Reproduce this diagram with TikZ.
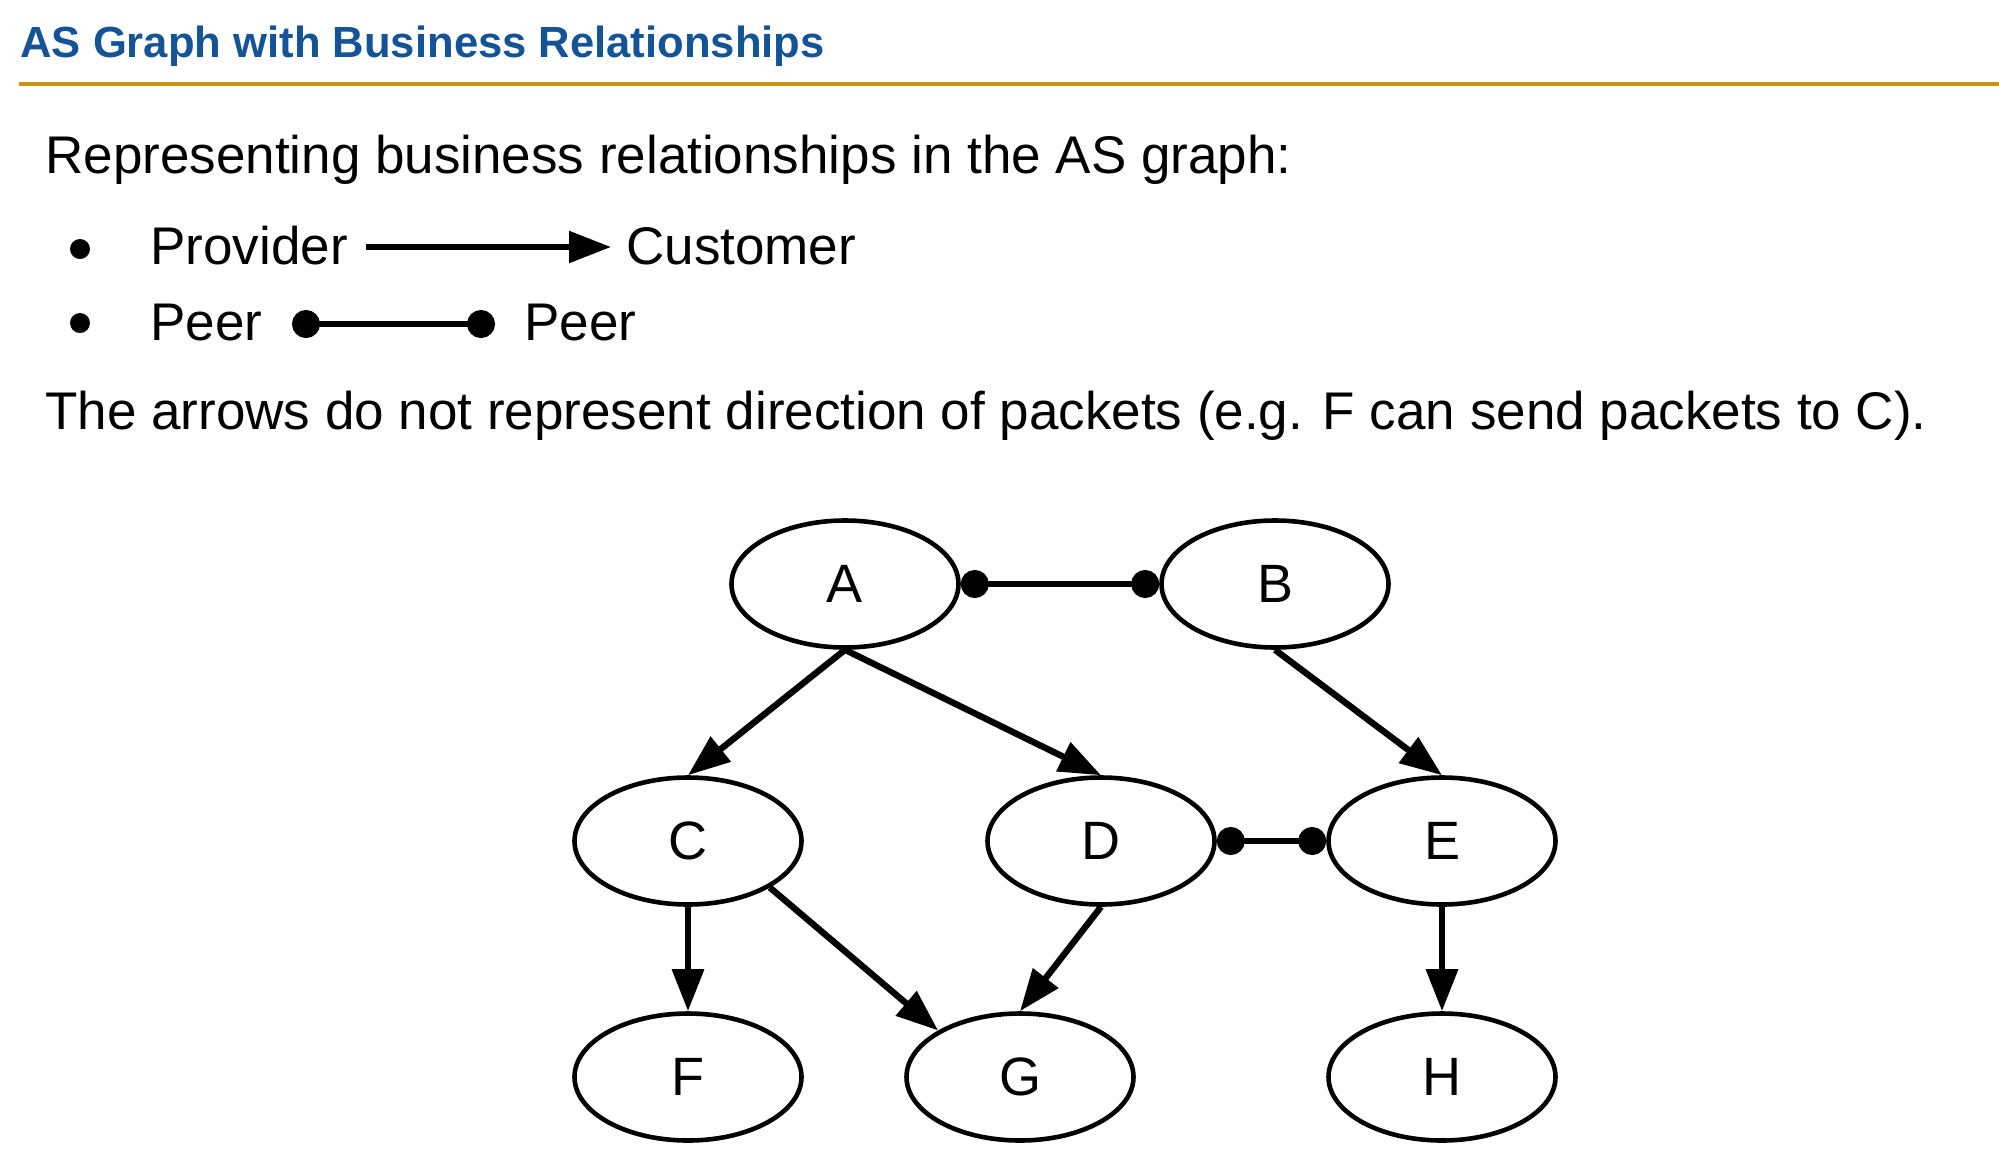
\documentclass[tikz,border=0pt]{standalone}
\usepackage{fontspec}
\setmainfont{Liberation Sans}
\usetikzlibrary{arrows.meta,shapes.geometric}

\definecolor{titleblue}{RGB}{20,84,150}
\definecolor{rulegold}{RGB}{198,150,14}

\tikzset{
  asnode/.style={ellipse, draw, line width=2.3pt, minimum width=113.5pt,
    minimum height=63.5pt, inner sep=0pt, font=\fontsize{27}{30}\selectfont},
  custedge/.style={line width=3.2pt, -{Triangle[length=21pt,width=15.5pt]}},
  peeredge/.style={line width=3.2pt, {Circle[length=14pt]}-{Circle[length=14pt]}},
  bodytext/.style={anchor=base west, inner sep=0pt, font=\fontsize{26.5}{30}\selectfont},
}

\begin{document}
\begin{tikzpicture}[x=0.5pt, y=-0.5pt]
        \useasboundingbox (0,0) rectangle (1999,1158);

        % Title and rule
        \node[anchor=base west, inner sep=0pt, text=titleblue,
          font=\fontsize{21.8}{26}\selectfont\bfseries] (title) at (20,57)
          {AS Graph with Business Relationships};
        \fill[rulegold] (19,82) rectangle (1999,86);

        % Explanation
        \node[bodytext] (intro) at (45,173) {Representing business relationships in the AS graph:};

        % Legend: provider -> customer
        \fill (80,249) circle (5pt);
        \node[bodytext] (prov) at (150,264) {Provider};
        \coordinate (provl) at (366,247);
        \coordinate (provr) at (611,247);
        \draw[custedge, line width=2.8pt] (provl) -- (provr);
        \node[bodytext] (cust) at (626,264) {Customer};

        % Legend: peer -- peer
        \fill (80,323) circle (5pt);
        \node[bodytext] (peerl) at (150,340) {Peer};
        \coordinate (peerla) at (292,324);
        \coordinate (peerlb) at (495,324);
        \draw[peeredge, line width=2.8pt] (peerla) -- (peerlb);
        \node[bodytext] (peerr) at (524,340) {Peer};

        \node[bodytext] (note) at (45,429) {The arrows do not represent direction of packets (e.g. F can send packets to C).};

        % AS nodes
        \node[asnode] (A) at (845,584) {A};
        \node[asnode] (B) at (1275,584) {B};
        \node[asnode] (C) at (688,841) {C};
        \node[asnode] (D) at (1101,841) {D};
        \node[asnode] (E) at (1442,841) {E};
        \node[asnode] (F) at (688,1077) {F};
        \node[asnode] (G) at (1020,1077) {G};
        \node[asnode] (H) at (1442,1077) {H};

        % Provider-customer edges
        \draw[custedge] (A.south) -- (C.north);
        \draw[custedge] (A.south) -- (D.north);
        \draw[custedge] (B.south) -- (E.north);
        \draw[custedge] (C.south) -- (F.north);
        \draw[custedge] (C.south east) -- (G.north west);
        \draw[custedge] (D.south) -- (G.north);
        \draw[custedge] (E.south) -- (H.north);

        % Peer edges
        \draw[peeredge] (A.east) -- (B.west);
        \draw[peeredge] (D.east) -- (E.west);
    \end{tikzpicture}
\end{document}
